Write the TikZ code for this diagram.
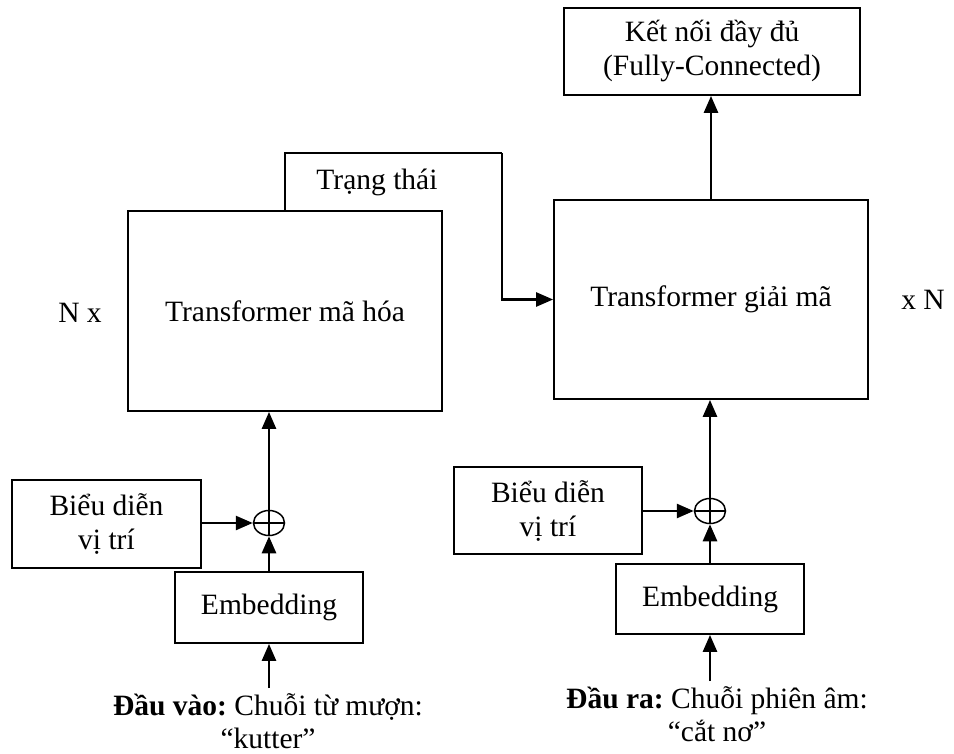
\documentclass[tikz,border=0pt]{standalone}
\usepackage{fontspec}
\setmainfont{Liberation Serif}
\usetikzlibrary{arrows.meta,shapes.geometric}
\begin{document}
\frenchspacing
\begin{tikzpicture}[x=1pt,y=-1pt,
  font=\fontsize{29.5}{34}\selectfont,
  box/.style={draw=black,line width=1.8pt,inner sep=0pt,align=center},
  arr/.style={line width=2.6pt,-{Triangle[length=17pt,width=14pt]}},
  addop/.style={ellipse,draw=black,line width=1.5pt,minimum width=31pt,
    minimum height=25pt,inner sep=0pt,
    path picture={\draw[line width=1.5pt]
      (path picture bounding box.north) -- (path picture bounding box.south)
      (path picture bounding box.west) -- (path picture bounding box.east);}},
  lbl/.style={inner sep=0pt,align=center}]
\useasboundingbox (0,0) rectangle (954,754);

% main blocks
\node[box,minimum width=314pt,minimum height=200pt] (enc) at (285,311) {Transformer mã hóa};
\node[box,minimum width=314pt,minimum height=199pt] (dec) at (711,299.5) {Transformer giải mã};
\node[box,minimum width=296pt,minimum height=87pt] (fc) at (712,51.5) {Kết nối đầy đủ\\(Fully-Connected)};
\node[lbl] (nl) at (80,313) {N x};
\node[lbl] (nr) at (923,300) {x N};

% encoder input stack
\node[box,minimum width=189pt,minimum height=88pt] (posl) at (106.5,524) {Biểu diễn\\vị trí};
\node[addop] (addl) at (269,523) {};
\node[box,minimum width=188pt,minimum height=71pt] (embl) at (269,607.5) {Embedding};
\node[lbl,font=\fontsize{29.5}{33}\selectfont] (inl) at (268,721) {\textbf{Đầu vào:} Chuỗi từ mượn:\\“kutter”};
\coordinate (inlt) at (269,688);

% decoder input stack
\node[box,minimum width=188pt,minimum height=87pt] (posr) at (548,510.5) {Biểu diễn\\vị trí};
\node[addop] (addr) at (710,511) {};
\node[box,minimum width=188pt,minimum height=70pt] (embr) at (710,599) {Embedding};
\node[lbl,font=\fontsize{29.5}{33}\selectfont] (inr) at (717,714) {\textbf{Đầu ra:} Chuỗi phiên âm:\\“cắt nơ”};
\coordinate (inrt) at (710,681);

% connectors
\draw[arr] (inlt) -- (embl.south);
\draw[arr] (embl.north) -- (addl.south);
\draw[arr] (posl.east |- addl.west) -- (addl.west);
\draw[arr] (addl.north) -- (addl.north |- enc.south);

\draw[arr] (inrt) -- (embr.south);
\draw[arr] (embr.north) -- (addr.south);
\draw[arr] (posr.east |- addr.west) -- (addr.west);
\draw[arr] (addr.north) -- (addr.north |- dec.south);

\draw[arr] (dec.north) -- (dec.north |- fc.south);

% encoder state passed to the decoder
\coordinate (st) at (502,153);
\draw[line width=1.8pt] (enc.north) |- (st);
\draw[arr] (st) |- (dec.west);
\node[lbl] (stl) at (377,182) {Trạng thái};
\end{tikzpicture}
\end{document}
